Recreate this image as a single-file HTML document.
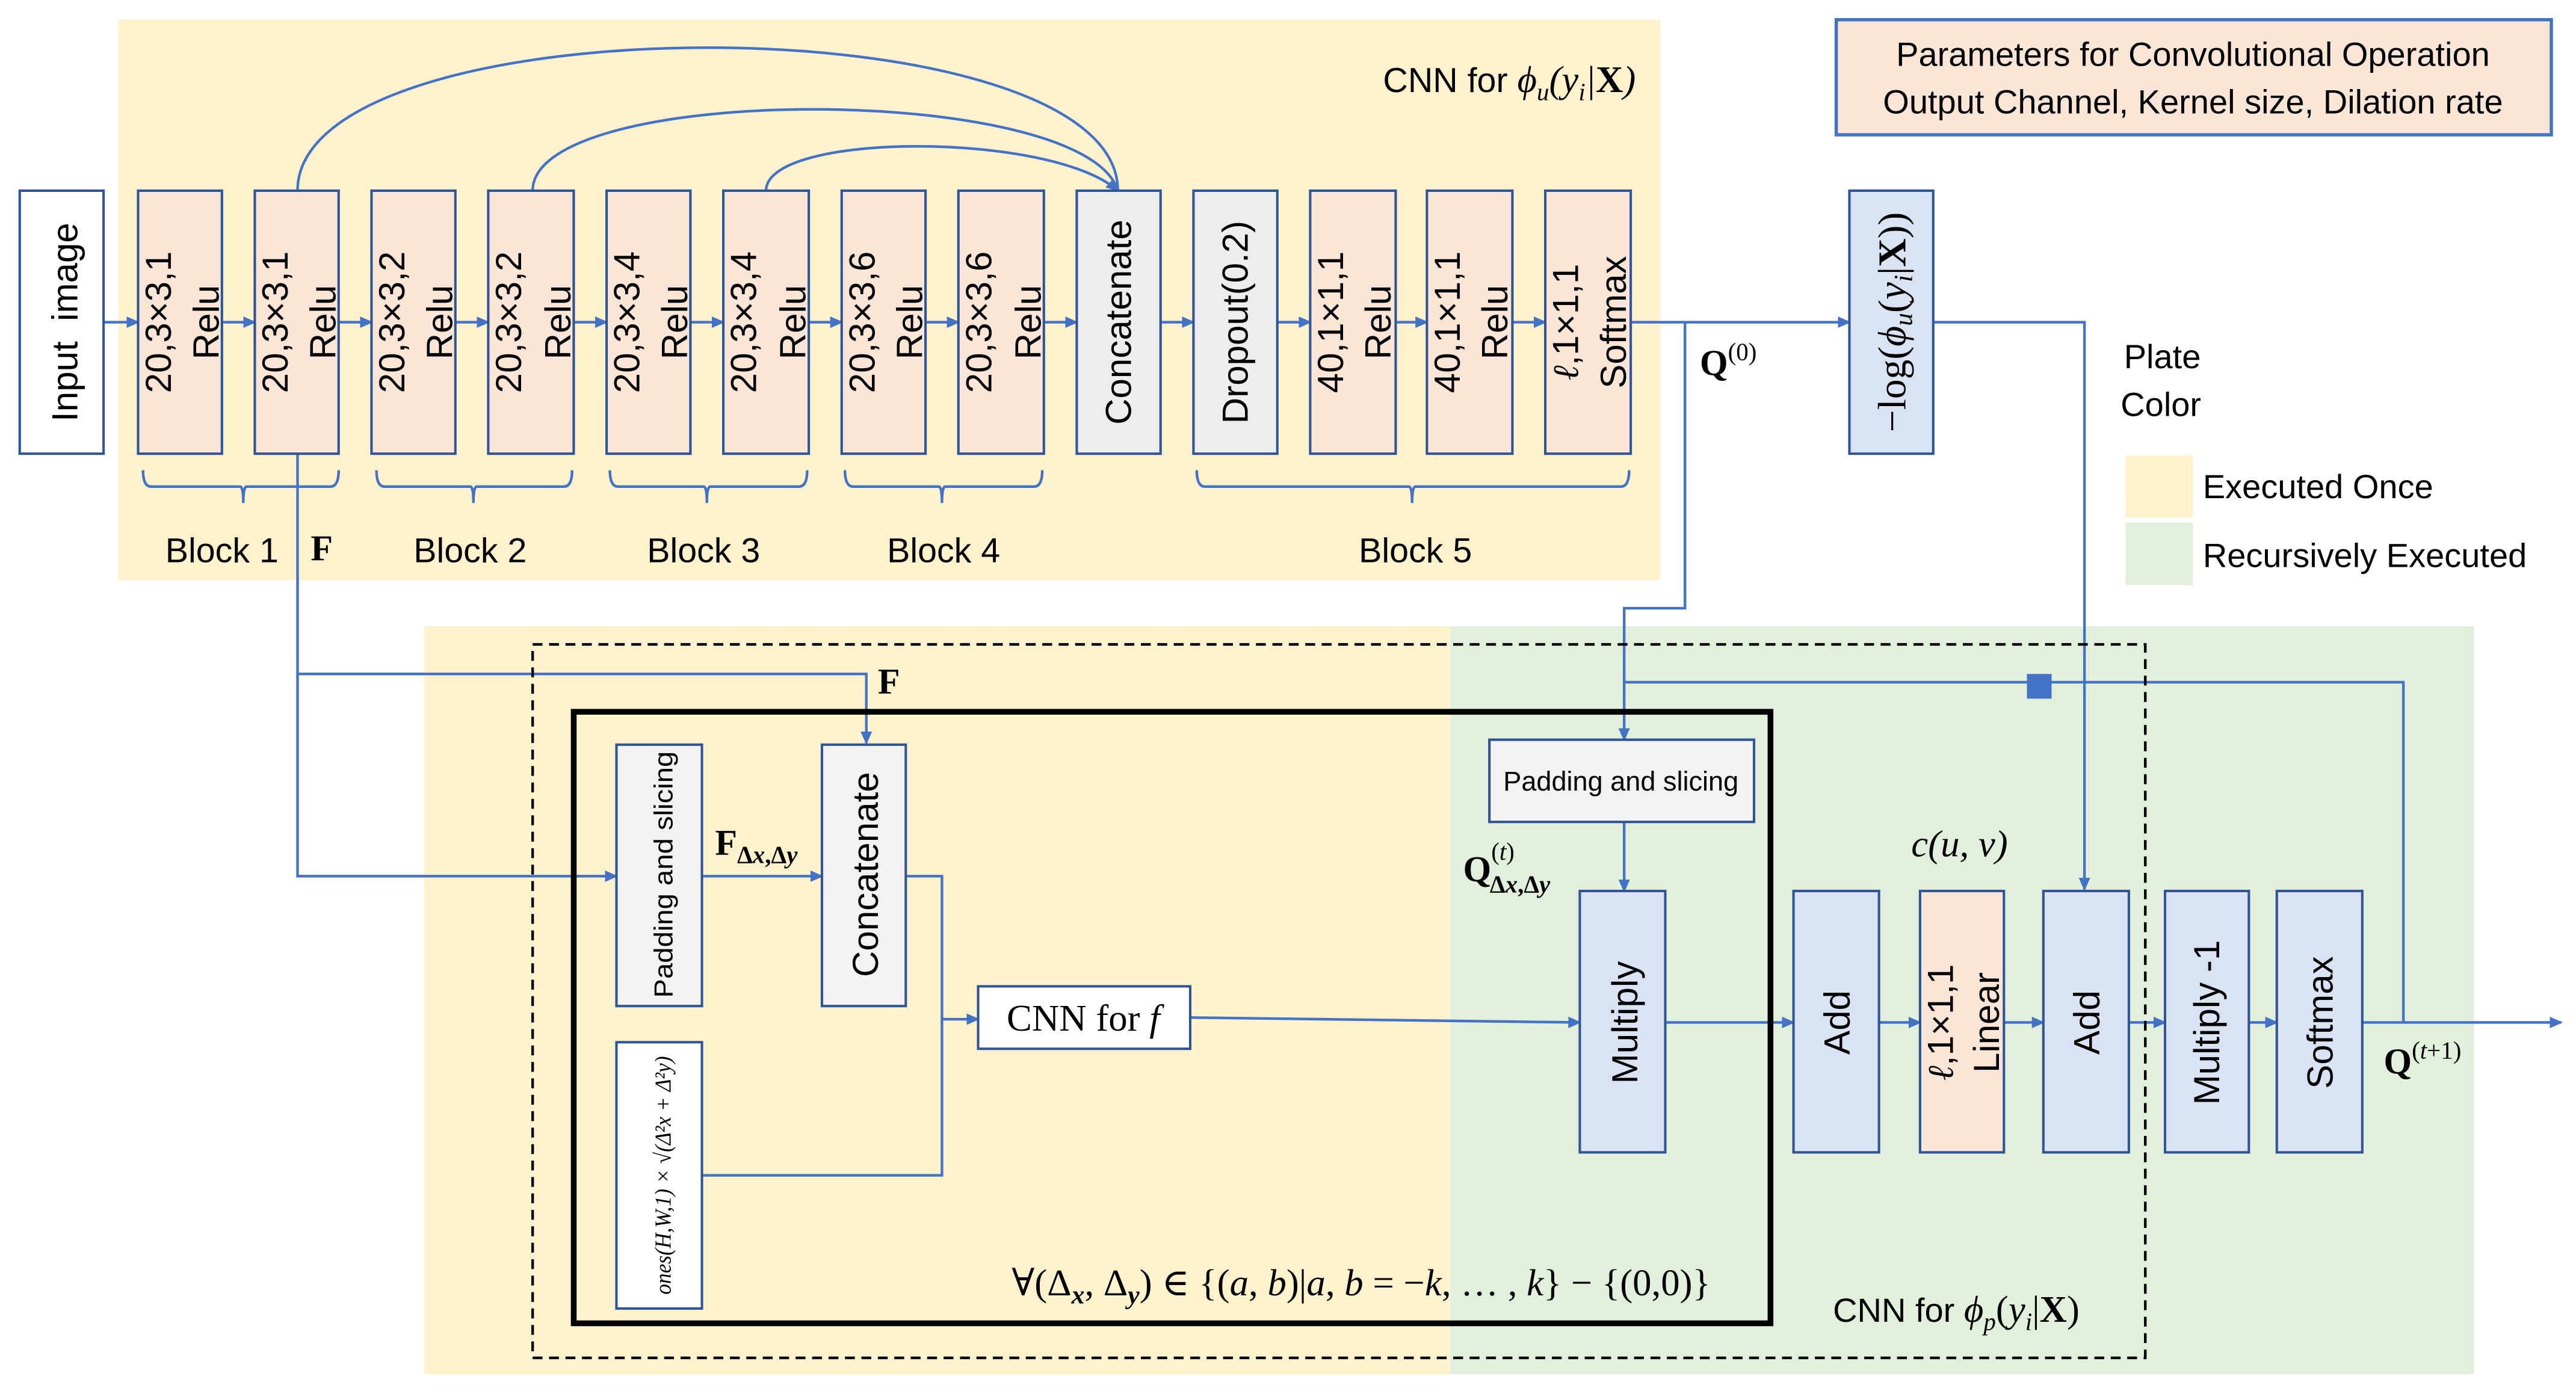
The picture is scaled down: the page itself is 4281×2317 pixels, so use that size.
<!DOCTYPE html>
<html><head><meta charset="utf-8"><style>html,body{margin:0;padding:0;background:#fff}svg{display:block}</style></head><body>
<svg xmlns="http://www.w3.org/2000/svg" width="4281" height="2317" viewBox="0 0 1567 848" preserveAspectRatio="none" font-family="Liberation Sans, DejaVu Sans, sans-serif">
<defs>
<marker id="a" markerWidth="8" markerHeight="8" refX="7" refY="4" orient="auto" markerUnits="userSpaceOnUse"><path d="M0,0.5 L8,4 L0,7.5 z" fill="#4472c4"/></marker>
</defs>
<rect x="72" y="12" width="938" height="341" fill="#fff2cc"/>
<rect x="258" y="381" width="624" height="455" fill="#fff2cc"/>
<rect x="882" y="381" width="623" height="455" fill="#e2efda"/>
<rect x="1117" y="12" width="435" height="70" fill="#fbe5d6" stroke="#4472c4" stroke-width="2"/>
<text x="1334" y="40" font-size="20.5" text-anchor="middle">Parameters for Convolutional Operation</text>
<text x="1334" y="69" font-size="20.5" text-anchor="middle">Output Channel, Kernel size, Dilation rate</text>
<text x="1292" y="224" font-size="20.5">Plate</text>
<text x="1290" y="253" font-size="20.5">Color</text>
<rect x="1293" y="277" width="41" height="38" fill="#fff2cc"/>
<rect x="1293" y="318" width="41" height="38" fill="#e2efda"/>
<text x="1340" y="303" font-size="20.5">Executed Once</text>
<text x="1340" y="345" font-size="20.5">Recursively Executed</text>
<text x="995" y="56" font-size="21" text-anchor="end">CNN for <tspan font-family="Liberation Serif, serif" font-style="italic" font-size="23">ϕ<tspan font-size="15" dy="5">u</tspan><tspan dy="-5">(y</tspan><tspan font-size="15" dy="5">i</tspan><tspan dy="-5">|</tspan><tspan font-style="normal" font-weight="bold">X</tspan>)</tspan></text>

<g stroke="#4472c4" stroke-width="1.6" fill="none">
<path d="M181,116 C181,0 680,0 680,116"/>
<path d="M324,116 C324,50 660,50 680,116"/>
<path d="M466,116 C466,80 640,80 680,116" marker-end="url(#a)"/>
<line x1="63" y1="196" x2="84" y2="196" marker-end="url(#a)"/>
<line x1="135" y1="196" x2="155" y2="196" marker-end="url(#a)"/>
<line x1="206" y1="196" x2="226" y2="196" marker-end="url(#a)"/>
<line x1="277" y1="196" x2="297" y2="196" marker-end="url(#a)"/>
<line x1="349" y1="196" x2="369" y2="196" marker-end="url(#a)"/>
<line x1="420" y1="196" x2="440" y2="196" marker-end="url(#a)"/>
<line x1="492" y1="196" x2="512" y2="196" marker-end="url(#a)"/>
<line x1="563" y1="196" x2="583" y2="196" marker-end="url(#a)"/>
<line x1="635" y1="196" x2="655" y2="196" marker-end="url(#a)"/>
<line x1="706" y1="196" x2="726" y2="196" marker-end="url(#a)"/>
<line x1="777" y1="196" x2="797" y2="196" marker-end="url(#a)"/>
<line x1="849" y1="196" x2="868" y2="196" marker-end="url(#a)"/>
<line x1="920" y1="196" x2="940" y2="196" marker-end="url(#a)"/>
<line x1="992" y1="196" x2="1125" y2="196" marker-end="url(#a)"/>
<path d="M87,286 Q87,296 92,296 H146 Q148,296 148,306 Q148,296 150,296 H201 Q206,296 206,286"/>
<path d="M229,286 Q229,296 234,296 H286 Q288,296 288,306 Q288,296 290,296 H343 Q348,296 348,286"/>
<path d="M371,286 Q371,296 376,296 H428 Q430,296 430,306 Q430,296 432,296 H486 Q491,296 491,286"/>
<path d="M514,286 Q514,296 519,296 H571 Q573,296 573,306 Q573,296 575,296 H629 Q634,296 634,286"/>
<path d="M728,286 Q728,296 733,296 H857 Q859,296 859,306 Q859,296 861,296 H986 Q991,296 991,286"/>
<path d="M181,276 V410 H527 V452" marker-end="url(#a)"/>
<path d="M181,410 V533 H375" marker-end="url(#a)"/>
<path d="M1025,196 V370 H988 V450" marker-end="url(#a)"/>
<path d="M988,415 H1462 V622"/>
<path d="M1176,196 H1268 V541" marker-end="url(#a)"/>
<line x1="427" y1="533" x2="500" y2="533" marker-end="url(#a)"/>
<path d="M551,533 H573 V620 H595" marker-end="url(#a)"/>
<path d="M427,715 H573 V620"/>
<path d="M724,619 L961,622" marker-end="url(#a)"/>
<line x1="988" y1="500" x2="988" y2="542" marker-end="url(#a)"/>
<line x1="1013" y1="622" x2="1091" y2="622" marker-end="url(#a)"/>
<line x1="1143" y1="622" x2="1168" y2="622" marker-end="url(#a)"/>
<line x1="1219" y1="622" x2="1243" y2="622" marker-end="url(#a)"/>
<line x1="1295" y1="622" x2="1317" y2="622" marker-end="url(#a)"/>
<line x1="1368" y1="622" x2="1385" y2="622" marker-end="url(#a)"/>
<line x1="1437" y1="622" x2="1558" y2="622" marker-end="url(#a)"/>
</g>
<rect x="1233" y="410" width="15" height="15" fill="#4472c4"/>
<rect x="324" y="392" width="981" height="434" fill="none" stroke="#000" stroke-width="1.6" stroke-dasharray="6,4"/>
<rect x="349" y="433" width="728" height="372" fill="none" stroke="#000" stroke-width="3.5"/>

<g stroke="#2f5597" stroke-width="1.5">
<rect x="12" y="116" width="51" height="160" fill="#fff"/>
<rect x="84" y="116" width="51" height="160" fill="#fbe5d6"/>
<rect x="155" y="116" width="51" height="160" fill="#fbe5d6"/>
<rect x="226" y="116" width="51" height="160" fill="#fbe5d6"/>
<rect x="297" y="116" width="52" height="160" fill="#fbe5d6"/>
<rect x="369" y="116" width="51" height="160" fill="#fbe5d6"/>
<rect x="440" y="116" width="52" height="160" fill="#fbe5d6"/>
<rect x="512" y="116" width="51" height="160" fill="#fbe5d6"/>
<rect x="583" y="116" width="52" height="160" fill="#fbe5d6"/>
<rect x="655" y="116" width="51" height="160" fill="#ededed"/>
<rect x="726" y="116" width="51" height="160" fill="#ededed"/>
<rect x="797" y="116" width="52" height="160" fill="#fbe5d6"/>
<rect x="868" y="116" width="52" height="160" fill="#fbe5d6"/>
<rect x="940" y="116" width="52" height="160" fill="#fbe5d6"/>
<rect x="1125" y="116" width="51" height="160" fill="#dae3f3"/>
<rect x="375" y="453" width="52" height="159" fill="#f2f2f2"/>
<rect x="500" y="453" width="51" height="159" fill="#f2f2f2"/>
<rect x="375" y="634" width="52" height="162" fill="#fff"/>
<rect x="595" y="600" width="129" height="38" fill="#fff"/>
<rect x="906" y="450" width="161" height="50" fill="#f2f2f2"/>
<rect x="961" y="542" width="52" height="159" fill="#dae3f3"/>
<rect x="1091" y="542" width="52" height="159" fill="#dae3f3"/>
<rect x="1168" y="542" width="51" height="159" fill="#fbe5d6"/>
<rect x="1243" y="542" width="52" height="159" fill="#dae3f3"/>
<rect x="1317" y="542" width="51" height="159" fill="#dae3f3"/>
<rect x="1385" y="542" width="52" height="159" fill="#dae3f3"/>
</g>

<g font-size="22" text-anchor="middle">
<text transform="translate(47,196) rotate(-90)" xml:space="preserve">Input  image</text>
<text transform="translate(104,196) rotate(-90)">20,3×3,1</text><text transform="translate(133,196) rotate(-90)">Relu</text>
<text transform="translate(175,196) rotate(-90)">20,3×3,1</text><text transform="translate(204,196) rotate(-90)">Relu</text>
<text transform="translate(246,196) rotate(-90)">20,3×3,2</text><text transform="translate(275,196) rotate(-90)">Relu</text>
<text transform="translate(317,196) rotate(-90)">20,3×3,2</text><text transform="translate(347,196) rotate(-90)">Relu</text>
<text transform="translate(389,196) rotate(-90)">20,3×3,4</text><text transform="translate(418,196) rotate(-90)">Relu</text>
<text transform="translate(460,196) rotate(-90)">20,3×3,4</text><text transform="translate(490,196) rotate(-90)">Relu</text>
<text transform="translate(532,196) rotate(-90)">20,3×3,6</text><text transform="translate(561,196) rotate(-90)">Relu</text>
<text transform="translate(603,196) rotate(-90)">20,3×3,6</text><text transform="translate(633,196) rotate(-90)">Relu</text>
<text transform="translate(688,196) rotate(-90)">Concatenate</text>
<text transform="translate(759,196) rotate(-90)">Dropout(0.2)</text>
<text transform="translate(817,196) rotate(-90)">40,1×1,1</text><text transform="translate(846,196) rotate(-90)">Relu</text>
<text transform="translate(888,196) rotate(-90)">40,1×1,1</text><text transform="translate(917,196) rotate(-90)">Relu</text>
<text transform="translate(960,196) rotate(-90)"><tspan font-family="Liberation Serif, serif" font-style="italic">ℓ</tspan>,1×1,1</text><text transform="translate(989,196) rotate(-90)">Softmax</text>
<text transform="translate(1159,196) rotate(-90)" font-family="Liberation Serif, serif" font-size="24">−log(<tspan font-style="italic">ϕ</tspan><tspan font-size="16" font-style="italic" dy="4">u</tspan><tspan dy="-4">(</tspan><tspan font-style="italic">y</tspan><tspan font-size="16" font-style="italic" dy="4">i</tspan><tspan dy="-4">|</tspan><tspan font-weight="bold">X</tspan>))</text>
<text x="135" y="342" font-size="21">Block 1</text>
<text x="286" y="342" font-size="21">Block 2</text>
<text x="428" y="342" font-size="21">Block 3</text>
<text x="574" y="342" font-size="21">Block 4</text>
<text x="861" y="342" font-size="21">Block 5</text>
<text transform="translate(534,532) rotate(-90)">Concatenate</text>
<text transform="translate(409,532) rotate(-90)" font-size="16" textLength="150" lengthAdjust="spacingAndGlyphs">Padding and slicing</text>
<text x="986" y="481" font-size="16.5">Padding and slicing</text>
<text x="659" y="627" font-family="Liberation Serif, serif" font-size="23">CNN for <tspan font-style="italic">f</tspan></text>
<text transform="translate(996,622) rotate(-90)">Multiply</text>
<text transform="translate(1125,622) rotate(-90)">Add</text>
<text transform="translate(1188,622) rotate(-90)"><tspan font-family="Liberation Serif, serif" font-style="italic">ℓ</tspan>,1×1,1</text><text transform="translate(1216,622) rotate(-90)">Linear</text>
<text transform="translate(1277,622) rotate(-90)">Add</text>
<text transform="translate(1350,622) rotate(-90)">Multiply -1</text>
<text transform="translate(1419,622) rotate(-90)">Softmax</text>
</g>
<text transform="translate(408,715) rotate(-90)" font-size="14" text-anchor="middle" font-family="Liberation Serif, serif" font-style="italic" textLength="145" lengthAdjust="spacingAndGlyphs">ones(H,W,1) × √(Δ²x + Δ²y)</text>

<g font-family="Liberation Serif, DejaVu Serif, serif" font-size="22">
<text x="189" y="341" font-weight="bold">F</text>
<text x="534" y="422" font-weight="bold">F</text>
<text x="1034" y="228" font-weight="bold">Q<tspan font-weight="normal" font-size="15" dy="-9">(0)</tspan></text>
<text x="435" y="520" font-weight="bold">F<tspan font-size="15" dy="5">Δ<tspan font-style="italic">x</tspan>,Δ<tspan font-style="italic">y</tspan></tspan></text>
<text x="890" y="536" font-weight="bold">Q<tspan font-weight="normal" font-size="15" dy="-13">(<tspan font-style="italic">t</tspan>)</tspan><tspan font-size="15" dx="-15" dy="20">Δ<tspan font-style="italic">x</tspan>,Δ<tspan font-style="italic">y</tspan></tspan></text>
<text x="1192" y="521" text-anchor="middle" font-style="italic" font-size="23">c(u, v)</text>
<text x="1450" y="653" font-weight="bold">Q<tspan font-weight="normal" font-size="15" dy="-9">(<tspan font-style="italic">t</tspan>+1)</tspan></text>
<text x="828" y="788" text-anchor="middle" font-size="23">∀(Δ<tspan font-style="italic" font-weight="bold" font-size="16" dy="5">x</tspan><tspan dy="-5">, Δ</tspan><tspan font-style="italic" font-weight="bold" font-size="16" dy="5">y</tspan><tspan dy="-5">) ∈ {(<tspan font-style="italic">a</tspan>, <tspan font-style="italic">b</tspan>)|<tspan font-style="italic">a</tspan>, <tspan font-style="italic">b</tspan> = −<tspan font-style="italic">k</tspan>, … , <tspan font-style="italic">k</tspan>} − {(0,0)}</tspan></text>
<text x="1190" y="804" text-anchor="middle" font-size="23"><tspan font-family="Liberation Sans, sans-serif" font-size="20.5">CNN for </tspan><tspan font-style="italic">ϕ</tspan><tspan font-size="15" font-style="italic" dy="5">p</tspan><tspan dy="-5">(</tspan><tspan font-style="italic">y</tspan><tspan font-size="15" font-style="italic" dy="5">i</tspan><tspan dy="-5">|</tspan><tspan font-weight="bold">X</tspan>)</text>
</g>
</svg>
</body></html>
